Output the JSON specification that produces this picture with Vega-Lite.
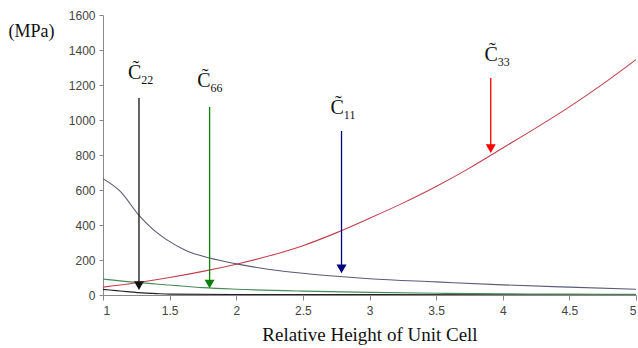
{
  "$schema": "https://vega.github.io/schema/vega-lite/v6.json",
  "width": 533,
  "height": 280,
  "autosize": "none",
  "padding": {"left": 103, "top": 15, "right": 2, "bottom": 53},
  "background": "white",
  "config": {"view": {"stroke": null}},
  "datasets": {
    "curves": [
      {"series": "C11", "x": 1.0, "v": 665},
      {"series": "C11", "x": 1.13, "v": 592},
      {"series": "C11", "x": 1.27, "v": 455},
      {"series": "C11", "x": 1.375, "v": 375},
      {"series": "C11", "x": 1.48, "v": 315},
      {"series": "C11", "x": 1.63, "v": 252},
      {"series": "C11", "x": 1.8, "v": 211},
      {"series": "C11", "x": 2.0, "v": 178},
      {"series": "C11", "x": 2.25, "v": 146},
      {"series": "C11", "x": 2.5, "v": 124},
      {"series": "C11", "x": 2.75, "v": 107},
      {"series": "C11", "x": 3.0, "v": 93},
      {"series": "C11", "x": 3.5, "v": 75},
      {"series": "C11", "x": 4.0, "v": 58},
      {"series": "C11", "x": 4.5, "v": 45},
      {"series": "C11", "x": 5.0, "v": 33},
      {"series": "C22", "x": 1.0, "v": 32},
      {"series": "C22", "x": 1.1, "v": 25},
      {"series": "C22", "x": 1.2, "v": 18},
      {"series": "C22", "x": 1.3, "v": 12},
      {"series": "C22", "x": 1.4, "v": 8},
      {"series": "C22", "x": 1.5, "v": 5},
      {"series": "C22", "x": 2.0, "v": 3},
      {"series": "C22", "x": 3.0, "v": 2},
      {"series": "C22", "x": 5.0, "v": 1},
      {"series": "C33", "x": 1.0, "v": 45},
      {"series": "C33", "x": 1.25, "v": 70},
      {"series": "C33", "x": 1.5, "v": 100},
      {"series": "C33", "x": 1.75, "v": 135},
      {"series": "C33", "x": 2.0, "v": 176},
      {"series": "C33", "x": 2.25, "v": 224},
      {"series": "C33", "x": 2.5, "v": 282},
      {"series": "C33", "x": 2.75, "v": 355},
      {"series": "C33", "x": 3.0, "v": 438},
      {"series": "C33", "x": 3.25, "v": 525},
      {"series": "C33", "x": 3.5, "v": 620},
      {"series": "C33", "x": 3.75, "v": 725},
      {"series": "C33", "x": 4.0, "v": 840},
      {"series": "C33", "x": 4.25, "v": 955},
      {"series": "C33", "x": 4.5, "v": 1075},
      {"series": "C33", "x": 4.75, "v": 1205},
      {"series": "C33", "x": 5.0, "v": 1345},
      {"series": "C66", "x": 1.0, "v": 91},
      {"series": "C66", "x": 1.25, "v": 72},
      {"series": "C66", "x": 1.5, "v": 57},
      {"series": "C66", "x": 1.75, "v": 42},
      {"series": "C66", "x": 2.0, "v": 33},
      {"series": "C66", "x": 2.5, "v": 22},
      {"series": "C66", "x": 3.0, "v": 15},
      {"series": "C66", "x": 3.5, "v": 10},
      {"series": "C66", "x": 4.0, "v": 7},
      {"series": "C66", "x": 4.5, "v": 5},
      {"series": "C66", "x": 5.0, "v": 4}
    ],
    "arrows": [
      {"series": "A22", "x": 1.27, "v": 1126, "head": 54},
      {"series": "A66", "x": 1.8, "v": 1074, "head": 63},
      {"series": "A11", "x": 2.79, "v": 937, "head": 149},
      {"series": "A33", "x": 3.91, "v": 1240, "head": 836}
    ],
    "heads": [
      {"series": "A22", "x": 1.27, "v": 54},
      {"series": "A66", "x": 1.8, "v": 63},
      {"series": "A11", "x": 2.79, "v": 149},
      {"series": "A33", "x": 3.91, "v": 836}
    ],
    "labels": [
      {"sub": "22", "x": 1.28, "v": 1233},
      {"sub": "66", "x": 1.8, "v": 1190},
      {"sub": "11", "x": 2.8, "v": 1034},
      {"sub": "33", "x": 3.955, "v": 1339}
    ]
  },
  "encoding": {
    "x": {
      "field": "x", "type": "quantitative",
      "scale": {"domain": [1, 5], "nice": false, "zero": false},
      "axis": {
        "values": [1, 1.5, 2, 2.5, 3, 3.5, 4, 4.5, 5],
        "format": "~g",
        "labelOverlap": false,
        "grid": false,
        "domainColor": "#888888",
        "tickColor": "#888888",
        "tickSize": 5,
        "labelFont": "Liberation Sans",
        "labelFontSize": 12,
        "labelColor": "#444444",
        "labelPadding": 5,
        "title": "Relative Height of Unit Cell",
        "titleFont": "Liberation Serif",
        "titleFontSize": 19,
        "titleFontWeight": "normal",
        "titleColor": "#111111",
        "titlePadding": 9
      }
    },
    "y": {
      "field": "v", "type": "quantitative",
      "scale": {"domain": [0, 1600], "nice": false},
      "axis": {
        "values": [0, 200, 400, 600, 800, 1000, 1200, 1400, 1600],
        "format": "d",
        "labelOverlap": false,
        "grid": false,
        "domainColor": "#888888",
        "tickColor": "#888888",
        "tickSize": 4,
        "labelFont": "Liberation Sans",
        "labelFontSize": 12,
        "labelColor": "#444444",
        "labelPadding": 4,
        "title": "(MPa)",
        "titleFont": "Liberation Serif",
        "titleFontSize": 18,
        "titleFontWeight": "normal",
        "titleColor": "#111111",
        "titleAngle": 0,
        "titleAlign": "center",
        "titleBaseline": "middle",
        "titleX": -72,
        "titleY": 16
      }
    }
  },
  "layer": [
    {
      "data": {"name": "curves"},
      "mark": {"type": "line", "strokeWidth": 1.1, "clip": true, "interpolate": "monotone"},
      "encoding": {
        "color": {
          "field": "series", "type": "nominal", "legend": null,
          "scale": {
            "domain": ["C11", "C22", "C33", "C66", "A11", "A22", "A33", "A66"],
            "range": ["#5a5a78", "#222222", "#c0404e", "#4a8a58", "#000080", "#111111", "#ff0000", "#008000"]
          }
        }
      }
    },
    {
      "data": {"name": "arrows"},
      "mark": {"type": "rule", "strokeWidth": 1.3},
      "encoding": {
        "y2": {"field": "head"},
        "color": {"field": "series", "type": "nominal", "legend": null}
      }
    },
    {
      "data": {"name": "heads"},
      "mark": {"type": "point", "shape": "triangle-down", "filled": true, "size": 100, "opacity": 1},
      "encoding": {
        "color": {"field": "series", "type": "nominal", "legend": null}
      }
    },
    {
      "data": {"name": "labels"},
      "mark": {"type": "text", "text": "C̃", "font": "Liberation Serif", "fontSize": 20, "align": "right", "baseline": "alphabetic", "color": "#111111", "dx": 1},
      "encoding": {}
    },
    {
      "data": {"name": "labels"},
      "mark": {"type": "text", "font": "Liberation Serif", "fontSize": 12, "align": "left", "baseline": "alphabetic", "color": "#111111", "dx": 1, "dy": 5},
      "encoding": {
        "text": {"field": "sub", "type": "nominal"}
      }
    }
  ]
}
